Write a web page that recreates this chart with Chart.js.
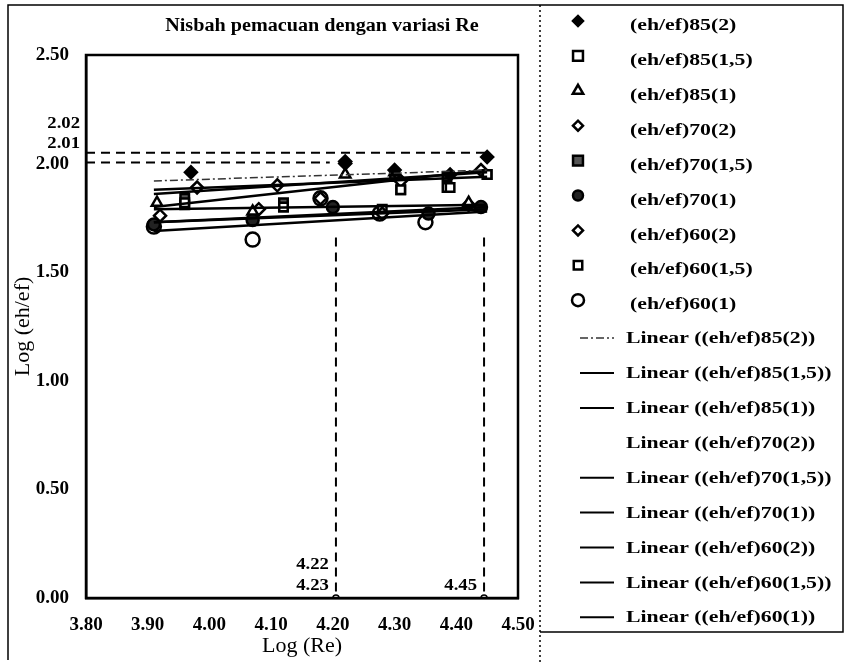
<!DOCTYPE html>
<html>
<head>
<meta charset="utf-8">
<script src="https://cdn.jsdelivr.net/npm/chart.js@4.4.1/dist/chart.umd.min.js"></script>
<style>
  html, body { margin: 0; padding: 0; background: #fff; }
  canvas { display: block; }
</style>
</head>
<body>
<canvas id="chart" width="847" height="665"></canvas>
<script>
// series names (legend order)
const seriesNames = [
  '(eh/ef)85(2)', '(eh/ef)85(1,5)', '(eh/ef)85(1)',
  '(eh/ef)70(2)', '(eh/ef)70(1,5)', '(eh/ef)70(1)',
  '(eh/ef)60(2)', '(eh/ef)60(1,5)', '(eh/ef)60(1)'
];

// Log(Re) and Log(eh/ef)
const logRe85_2  = [3.97, 4.22, 4.30, 4.39, 4.45];
const logEh85_2  = [1.96, 2.01, 1.97, 1.95, 2.03];
const logRe85_15 = [3.96, 4.12, 4.31, 4.39, 4.45];
const logEh85_15 = [1.82, 1.80, 1.88, 1.89, 1.95];
const logRe85_1  = [3.915, 4.07, 4.22, 4.30, 4.42];
const logEh85_1  = [1.82, 1.78, 1.95, 1.96, 1.82];
const logRe70_2  = [3.98, 4.11, 4.22, 4.31, 4.44];
const logEh70_2  = [1.89, 1.90, 2.00, 1.92, 1.97];
const logRe70_15 = [3.96, 4.12, 4.30, 4.385, 4.45];
const logEh70_15 = [1.84, 1.82, 1.94, 1.94, 1.95];
const logRe70_1  = [3.91, 4.07, 4.20, 4.355, 4.44];
const logEh70_1  = [1.72, 1.74, 1.80, 1.77, 1.80];
const logRe60_2  = [3.92, 4.08, 4.18, 4.28, 4.42];
const logEh60_2  = [1.76, 1.79, 1.84, 1.77, 1.81];
const logRe60_15 = [3.96, 4.12, 4.28, 4.31, 4.385];
const logEh60_15 = [1.81, 1.80, 1.79, 1.88, 1.89];
const logRe60_1  = [3.91, 4.07, 4.18, 4.276, 4.35];
const logEh60_1  = [1.71, 1.65, 1.84, 1.77, 1.73];

// linear trend lines: value at start / end of trendRange
const trendRange = [3.91, 4.45];
const trendStart = [1.92, 1.86, 1.80, 1.90, 1.88, 1.73, 1.79, 1.73, 1.69];
const trendEnd   = [1.97, 1.96, 1.97, 1.95, 1.94, 1.79, 1.81, 1.80, 1.78];

// dashed guide lines
const guideLevels = [2.05, 2.005];
const guideLevelEnds = [4.455, 4.195];
const guideRe = [4.205, 4.445];
const guideTop = 1.66;
const yAnnotations = ['2.02', '2.01'];
const xAnnotations = [['4.22', '4.23'], ['4.45']];

const xTicks = [3.8, 3.9, 4.0, 4.1, 4.2, 4.3, 4.4, 4.5];
const yTicks = [0, 0.5, 1.0, 1.5, 2.0, 2.5];

const xs = [logRe85_2, logRe85_15, logRe85_1, logRe70_2, logRe70_15, logRe70_1, logRe60_2, logRe60_15, logRe60_1];
const ys = [logEh85_2, logEh85_15, logEh85_1, logEh70_2, logEh70_15, logEh70_1, logEh60_2, logEh60_15, logEh60_1];

const markers = [
  { style: 'rectRot', fill: '#000', r: 6, lr: 5 },
  { style: 'rect', fill: '#fff', r: 6, lr: 7 },
  { style: 'triangle', fill: '#fff', r: 6, lr: 6 },
  { style: 'rectRot', fill: '#fff', r: 6, lr: 5 },
  { style: 'rect', fill: '#555', r: 6, lr: 7 },
  { style: 'circle', fill: '#222', r: 6, lr: 5 },
  { style: 'rectRot', fill: '#fff', r: 6, lr: 5 },
  { style: 'rect', fill: '#fff', r: 6, lr: 6 },
  { style: 'circle', fill: '#fff', r: 7, lr: 6 }
];
const trendDash = [[8, 3, 2, 3], [], [], [], [], [], [], [], []];
const trendColor = ['#333', '#000', '#000', 'rgba(0,0,0,0)', '#000', '#000', '#000', '#000', '#000'];

const datasets = [];
// guide lines first so they sit underneath
guideLevels.forEach((lv, i) => {
  datasets.push({
    type: 'line', label: 'guideH' + i,
    data: [{ x: 3.8, y: lv }, { x: guideLevelEnds[i], y: lv }],
    borderColor: '#000', borderWidth: 2, borderDash: [9, 6],
    pointRadius: 0, fill: false
  });
});
guideRe.forEach((g, i) => {
  datasets.push({
    type: 'line', label: 'guideV' + i,
    data: [{ x: g, y: guideTop }, { x: g, y: 0 }],
    borderColor: '#000', borderWidth: 2, borderDash: [9, 6],
    pointRadius: [0, 3], pointBackgroundColor: '#fff', pointBorderColor: '#000',
    pointBorderWidth: 1.5, fill: false
  });
});
seriesNames.forEach((n, i) => {
  datasets.push({
    type: 'line', label: 'Linear (' + n + ')',
    data: trendRange.map((x, k) => ({ x: x, y: k === 0 ? trendStart[i] : trendEnd[i] })),
    borderColor: trendColor[i], borderWidth: i === 0 ? 1.5 : 2.5, borderDash: trendDash[i],
    pointRadius: 0, fill: false
  });
});
seriesNames.forEach((n, i) => {
  datasets.push({
    type: 'scatter', label: n,
    data: xs[i].map((x, k) => ({ x: x, y: ys[i][k] })),
    pointStyle: markers[i].style, pointRadius: markers[i].r,
    pointBackgroundColor: markers[i].fill, pointBorderColor: '#000', pointBorderWidth: 2.5
  });
});

const serif = '"Liberation Serif", "Times New Roman", serif';

// scanned text looks wider than plain Times, so stretch it a bit
function wideText(ctx, t, x, y, sx, align) {
  ctx.save();
  ctx.translate(x, y);
  ctx.scale(sx, 1);
  ctx.textAlign = align;
  ctx.fillText(t, 0, 0);
  ctx.restore();
}

const framePlugin = {
  id: 'frame',
  afterDraw(chart) {
    const ctx = chart.ctx, a = chart.chartArea;
    const xS = chart.scales.x, yS = chart.scales.y;
    ctx.save();
    ctx.strokeStyle = '#000';
    ctx.lineWidth = 2.5;
    ctx.strokeRect(a.left, a.top, a.right - a.left, a.bottom - a.top);

    // outer frame + legend box
    ctx.lineWidth = 1.5;
    ctx.beginPath();
    ctx.moveTo(8, 660); ctx.lineTo(8, 5); ctx.lineTo(843, 5); ctx.lineTo(843, 632); ctx.lineTo(540, 632);
    ctx.stroke();
    ctx.setLineDash([2, 3]);
    ctx.beginPath(); ctx.moveTo(540, 5); ctx.lineTo(540, 665); ctx.stroke();
    ctx.setLineDash([]);

    // title
    ctx.fillStyle = '#000';
    ctx.textBaseline = 'middle';
    ctx.font = 'bold 18px ' + serif;
    wideText(ctx, 'Nisbah pemacuan dengan variasi Re', 322, 26, 1.12, 'center');

    // annotation labels
    ctx.font = 'bold 17px ' + serif;
    yAnnotations.forEach((t, i) => {
      wideText(ctx, t, a.left - 6, yS.getPixelForValue(2.0) - 20 * (yAnnotations.length - i), 1.1, 'right');
    });
    xAnnotations.forEach((arr, i) => {
      const px = xS.getPixelForValue(guideRe[i]) - 7;
      arr.forEach((t, k) => {
        wideText(ctx, t, px, yS.getPixelForValue(0) - 12 - 21 * (arr.length - 1 - k), 1.1, 'right');
      });
    });

    // legend
    const rowY = k => 24 + k * 34.9;
    ctx.font = 'bold 16px ' + serif;
    seriesNames.forEach((n, i) => {
      const y = rowY(i);
      ctx.fillStyle = markers[i].fill;
      ctx.strokeStyle = '#000';
      ctx.lineWidth = 2.5;
      Chart.helpers.drawPoint(ctx, { pointStyle: markers[i].style, radius: markers[i].lr, borderWidth: 2.5, rotation: 0 }, 578, y - 3);
      ctx.fillStyle = '#000';
      wideText(ctx, n, 630, y + 2, 1.36, 'left');
    });
    seriesNames.forEach((n, i) => {
      const y = rowY(i + 9);
      ctx.strokeStyle = trendColor[i];
      ctx.lineWidth = i === 0 ? 1.5 : 2;
      ctx.setLineDash(trendDash[i]);
      ctx.beginPath(); ctx.moveTo(580, y); ctx.lineTo(614, y); ctx.stroke();
      ctx.setLineDash([]);
      ctx.fillStyle = '#000';
      wideText(ctx, 'Linear (' + n + ')', 626, y + 1, 1.36, 'left');
    });
    ctx.restore();
  }
};

new Chart(document.getElementById('chart').getContext('2d'), {
  data: { datasets: datasets },
  options: {
    responsive: false,
    animation: false,
    layout: { padding: { left: 0, top: 55, right: 329, bottom: 0 } },
    plugins: { legend: { display: false }, tooltip: { enabled: false } },
    scales: {
      x: {
        type: 'linear', min: 3.8, max: 4.5,
        afterBuildTicks: s => { s.ticks = xTicks.map(v => ({ value: v })); },
        afterFit: s => { s.height = 67; },
        ticks: { callback: v => v.toFixed(2), color: '#000', padding: 8, font: { family: serif, size: 19, weight: 'bold' } },
        grid: { display: false },
        border: { color: '#000', width: 2.5 },
        title: { display: true, text: 'Log (Re)', color: '#000', font: { family: serif, size: 22 }, padding: { top: 0, bottom: 6 } }
      },
      y: {
        type: 'linear', min: 0, max: 2.5,
        afterBuildTicks: s => { s.ticks = yTicks.map(v => ({ value: v })); },
        afterFit: s => { s.width = 86; },
        ticks: { callback: v => v.toFixed(2), color: '#000', padding: 9, font: { family: serif, size: 19, weight: 'bold' } },
        grid: { display: false },
        border: { color: '#000', width: 2.5 },
        title: { display: true, text: 'Log (eh/ef)', color: '#000', font: { family: serif, size: 22 }, padding: { top: 10, bottom: 0 } }
      }
    }
  },
  plugins: [framePlugin]
});
</script>
</body>
</html>
